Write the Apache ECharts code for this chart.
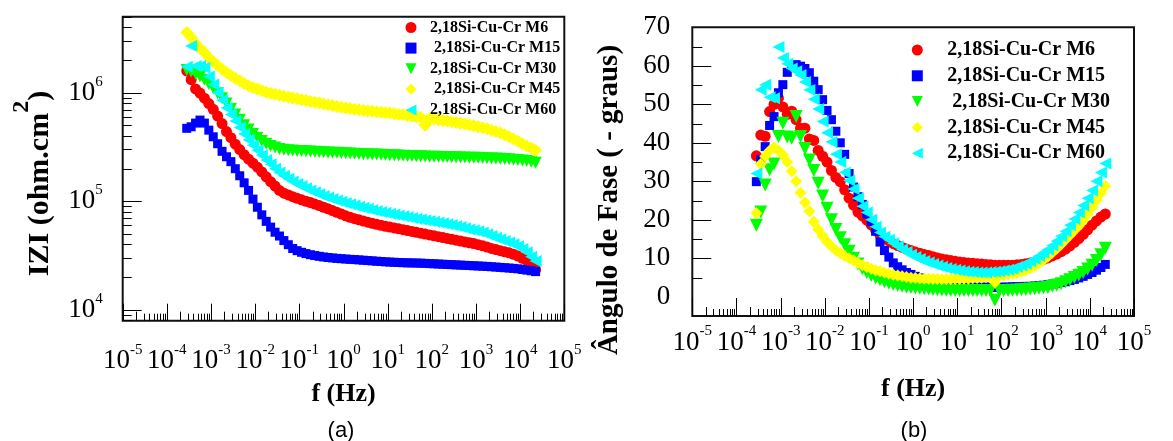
<!DOCTYPE html>
<html>
<head>
<meta charset="utf-8">
<title>Bode 2,18Si-Cu-Cr</title>
<script src="https://cdn.jsdelivr.net/npm/echarts@6.0.0/dist/echarts.min.js"></script>
<style>
  html, body { margin: 0; padding: 0; background: #fff; }
  #chart { width: 1173px; height: 441px; }
</style>
</head>
<body>
<div id="chart"></div>
<script>
// log10 of frequency (Hz), shared by every sample
const logF = [
  -3.55, -3.45, -3.35, -3.25, -3.15, -3.05, -2.95, -2.85, -2.75, -2.65,
  -2.55, -2.45, -2.35, -2.25, -2.15, -2.05, -1.95, -1.85, -1.75, -1.65,
  -1.55, -1.45, -1.35, -1.25, -1.15, -1.05, -0.95, -0.85, -0.75, -0.65,
  -0.55, -0.45, -0.35, -0.25, -0.15, -0.05, 0.05, 0.15, 0.25, 0.35,
  0.45, 0.55, 0.65, 0.75, 0.85, 0.95, 1.05, 1.15, 1.25, 1.35,
  1.45, 1.55, 1.65, 1.75, 1.85, 1.95, 2.05, 2.15, 2.25, 2.35,
  2.45, 2.55, 2.65, 2.75, 2.85, 2.95, 3.05, 3.15, 3.25, 3.35,
  3.45, 3.55, 3.65, 3.75, 3.85, 3.95, 4.05, 4.15, 4.25, 4.35
];

// (a) log10 |Z| (ohm.cm2)
const logZ_M6 = [
  6.20, 6.12, 6.035, 5.997, 5.95, 5.90, 5.847, 5.785, 5.716, 5.642,
  5.586, 5.526, 5.476, 5.429, 5.388, 5.351, 5.314, 5.27, 5.225, 5.18,
  5.14, 5.10, 5.075, 5.058, 5.042, 5.027, 5.013, 5.0, 4.988, 4.974,
  4.96, 4.945, 4.93, 4.914, 4.898, 4.882, 4.866, 4.852, 4.84, 4.829,
  4.818, 4.807, 4.797, 4.788, 4.778, 4.77, 4.762, 4.754, 4.746, 4.738,
  4.73, 4.722, 4.714, 4.706, 4.698, 4.69, 4.682, 4.674, 4.666, 4.658,
  4.65, 4.642, 4.634, 4.626, 4.618, 4.61, 4.60, 4.59, 4.578, 4.566,
  4.555, 4.545, 4.535, 4.525, 4.512, 4.495, 4.475, 4.455, 4.42, 4.37
];
const logZ_M15 = [
  5.672, 5.686, 5.72, 5.748, 5.72, 5.655, 5.594, 5.53, 5.46, 5.41,
  5.365, 5.30, 5.235, 5.17, 5.10, 5.02, 4.945, 4.875, 4.815, 4.762,
  4.715, 4.68, 4.638, 4.60, 4.565, 4.545, 4.53, 4.518, 4.508, 4.50,
  4.493, 4.487, 4.482, 4.478, 4.474, 4.471, 4.468, 4.465, 4.463, 4.46,
  4.457, 4.454, 4.451, 4.448, 4.445, 4.442, 4.44, 4.438, 4.436, 4.434,
  4.433, 4.432, 4.431, 4.43, 4.428, 4.426, 4.424, 4.422, 4.42, 4.418,
  4.416, 4.414, 4.412, 4.41, 4.408, 4.406, 4.404, 4.402, 4.40, 4.397,
  4.394, 4.391, 4.388, 4.385, 4.382, 4.378, 4.372, 4.366, 4.36, 4.352
];
const logZ_M30 = [
  6.21, 6.195, 6.175, 6.15, 6.12, 6.08, 6.04, 5.995, 5.95, 5.90,
  5.85, 5.80, 5.75, 5.70, 5.66, 5.62, 5.585, 5.555, 5.53, 5.51,
  5.495, 5.482, 5.475, 5.47, 5.467, 5.464, 5.462, 5.46, 5.458, 5.456,
  5.454, 5.452, 5.45, 5.448, 5.446, 5.444, 5.442, 5.44, 5.438, 5.436,
  5.434, 5.432, 5.431, 5.43, 5.428, 5.427, 5.425, 5.423, 5.421, 5.419,
  5.417, 5.416, 5.415, 5.414, 5.412, 5.411, 5.41, 5.409, 5.408, 5.407,
  5.406, 5.405, 5.404, 5.403, 5.402, 5.401, 5.40, 5.399, 5.397, 5.395,
  5.393, 5.391, 5.389, 5.386, 5.383, 5.379, 5.375, 5.37, 5.363, 5.355
];
const logZ_M45 = [
  6.554, 6.51, 6.455, 6.41, 6.37, 6.325, 6.286, 6.25, 6.215, 6.185,
  6.158, 6.133, 6.11, 6.085, 6.065, 6.048, 6.033, 6.02, 6.005, 5.994,
  5.985, 5.976, 5.968, 5.96, 5.952, 5.944, 5.936, 5.928, 5.92, 5.912,
  5.904, 5.896, 5.888, 5.881, 5.874, 5.867, 5.86, 5.854, 5.848, 5.842,
  5.837, 5.832, 5.828, 5.824, 5.82, 5.816, 5.812, 5.807, 5.802, 5.796,
  5.79, 5.784, 5.778, 5.772, 5.70, 5.762, 5.757, 5.751, 5.745, 5.739,
  5.733, 5.726, 5.719, 5.711, 5.703, 5.695, 5.686, 5.677, 5.667, 5.655,
  5.642, 5.628, 5.612, 5.594, 5.574, 5.553, 5.53, 5.51, 5.49, 5.47
];
const logZ_M60 = [
  6.24, 6.43, 6.245, 6.245, 6.23, 6.15, 6.075, 6.00, 5.93, 5.86,
  5.80, 5.74, 5.68, 5.62, 5.565, 5.515, 5.47, 5.425, 5.38, 5.34,
  5.30, 5.265, 5.235, 5.208, 5.183, 5.16, 5.14, 5.12, 5.10, 5.082,
  5.065, 5.049, 5.034, 5.02, 5.007, 4.995, 4.983, 4.972, 4.961, 4.95,
  4.94, 4.93, 4.92, 4.911, 4.902, 4.894, 4.886, 4.878, 4.87, 4.862,
  4.854, 4.847, 4.84, 4.833, 4.826, 4.819, 4.812, 4.805, 4.797, 4.789,
  4.781, 4.772, 4.762, 4.752, 4.741, 4.733, 4.725, 4.712, 4.697, 4.68,
  4.665, 4.65, 4.635, 4.62, 4.605, 4.585, 4.56, 4.53, 4.49, 4.45
];

// (b) phase angle (- degrees)
const phase_M6 = [
  36.6, 42.0, 41.7, 48.1, 50.0, 51.6, 49.3, 47.4, 48.2, 46.0,
  43.8, 43.8, 41.0, 40.6, 38.0, 36.5, 35.0, 32.8, 31.0, 29.9,
  27.8, 25.6, 23.8, 22.0, 21.0, 19.9, 18.7, 17.3, 16.0, 15.2,
  14.5, 13.8, 13.3, 12.8, 12.4, 12.0, 11.6, 11.3, 11.0, 10.7,
  10.4, 10.1, 9.8, 9.6, 9.4, 9.2, 9.0, 8.9, 8.8, 8.7,
  8.6, 8.5, 8.4, 8.3, 8.2, 8.2, 8.2, 8.2, 8.2, 8.3,
  8.4, 8.6, 8.8, 9.0, 9.3, 9.7, 10.1, 10.6, 11.1, 11.7,
  12.4, 13.2, 14.1, 15.1, 16.2, 17.4, 18.6, 19.7, 20.7, 21.5
];
const phase_M15 = [
  29.9, 35.6, 39.0, 44.5, 46.8, 53.0, 55.1, 58.3, 59.6, 60.3,
  59.9, 59.3, 58.2, 56.0, 53.8, 51.2, 48.4, 46.0, 43.0, 40.0,
  37.0, 32.0, 28.5, 26.0, 24.0, 21.5, 19.5, 17.0, 14.2, 12.0,
  10.3, 8.8, 7.8, 7.0, 6.3, 5.8, 5.3, 4.9, 4.5, 4.1,
  3.8, 3.5, 3.2, 3.0, 2.9, 2.8, 2.7, 2.6, 2.6, 2.5,
  2.5, 2.5, 2.5, 2.5, 2.4, 2.5, 2.5, 2.5, 2.6, 2.6,
  2.6, 2.7, 2.7, 2.8, 2.9, 3.0, 3.1, 3.3, 3.5, 3.7,
  3.9, 4.2, 4.5, 4.9, 5.3, 5.8, 6.3, 6.9, 7.6, 8.4
];
const phase_M30 = [
  18.6, 22.0, 29.0, 33.0, 34.5, 41.6, 45.1, 41.5, 41.2, 46.8,
  41.6, 38.5, 35.5, 32.8, 29.5, 26.2, 23.0, 20.0, 17.5, 15.3,
  13.5, 11.8, 10.0, 8.5, 7.3, 6.3, 5.5, 4.9, 4.4, 3.9,
  3.5, 3.2, 2.9, 2.7, 2.5, 2.4, 2.3, 2.2, 2.1, 2.0,
  1.9, 1.8, 1.75, 1.7, 1.65, 1.6, 1.6, 1.6, 1.6, 1.6,
  1.6, 1.6, 1.6, 1.6, -0.9, 1.6, 1.6, 1.65, 1.7, 1.7,
  1.8, 1.9, 2.0, 2.1, 2.2, 2.3, 2.4, 2.7, 3.0, 3.4,
  3.9, 4.4, 5.0, 5.6, 6.3, 7.2, 8.2, 9.4, 10.9, 12.6
];
const phase_M45 = [
  21.7, 34.5, 36.5, 38.0, 38.8, 38.0, 36.9, 35.0, 32.6, 30.0,
  27.0, 24.5, 22.2, 19.5, 17.5, 15.8, 14.3, 13.1, 12.1, 11.3,
  10.6, 10.0, 9.4, 8.8, 8.2, 7.7, 7.3, 6.9, 6.6, 6.3,
  6.0, 5.7, 5.5, 5.3, 5.1, 4.95, 4.85, 4.75, 4.7, 4.65,
  4.6, 4.6, 4.55, 4.55, 4.55, 4.6, 4.6, 4.65, 4.7, 4.8,
  4.85, 4.95, 5.05, 5.2, 3.7, 5.45, 5.6, 5.8, 6.0, 6.2,
  6.5, 6.9, 7.4, 8.0, 8.7, 9.5, 10.4, 11.4, 12.5, 13.6,
  14.8, 16.0, 17.2, 18.4, 19.8, 21.5, 23.2, 25.0, 26.9, 28.8
];
const phase_M60 = [
  32.0, 53.8, 55.1, 51.8, 51.6, 64.9, 62.0, 60.5, 59.3, 58.6,
  57.6, 55.8, 53.7, 51.3, 48.8, 45.5, 42.6, 40.2, 37.0, 35.0,
  32.3, 30.2, 28.0, 25.6, 23.5, 21.9, 20.0, 18.2, 16.7, 15.6,
  14.8, 13.9, 13.1, 12.3, 11.6, 10.9, 10.3, 9.8, 9.3, 8.9,
  8.5, 8.1, 7.8, 7.5, 7.2, 7.0, 6.8, 6.6, 6.5, 6.4,
  6.3, 6.3, 6.3, 6.4, 6.5, 6.6, 6.8, 7.0, 7.3, 7.7,
  8.1, 8.6, 9.2, 9.9, 10.6, 11.4, 12.3, 13.3, 14.5, 15.7,
  17.0, 18.6, 20.2, 21.9, 23.7, 25.6, 27.6, 30.0, 32.3, 34.6
];

// legend texts (the originals carry a leading blank on some lines)
const namesA = ['2,18Si-Cu-Cr M6', ' 2,18Si-Cu-Cr M15', '2,18Si-Cu-Cr M30', ' 2,18Si-Cu-Cr M45', '2,18Si-Cu-Cr M60'];
const namesB = ['2,18Si-Cu-Cr M6', '2,18Si-Cu-Cr M15', ' 2,18Si-Cu-Cr M30', '2,18Si-Cu-Cr M45', '2,18Si-Cu-Cr M60'];

// tick labels
const freqDecades = [-5, -4, -3, -2, -1, 0, 1, 2, 3, 4, 5];
const zDecades = [4, 5, 6];
const phaseTicks = [0, 10, 20, 30, 40, 50, 60, 70];

const serif = 'Liberation Serif';
const chart = echarts.init(document.getElementById('chart'));

const marks = [
  { color: '#ff0000', symbol: 'circle', rotate: 0, sizeA: 11, sizeB: 11, icon: 'circle' },
  { color: '#0000ff', symbol: 'rect', rotate: 0, sizeA: 9, sizeB: 9, icon: 'rect' },
  { color: '#00ff00', symbol: 'triangle', rotate: 180, sizeA: 12, sizeB: 13, icon: 'path://M0,0L2,0L1,2Z' },
  { color: '#ffff00', symbol: 'diamond', rotate: 0, sizeA: 13, sizeB: 12, icon: 'diamond' },
  { color: '#00ffff', symbol: 'triangle', rotate: 90, sizeA: 12, sizeB: 12, icon: 'path://M2,0L2,2L0,1Z' }
];

function scatter(name, ys, m, size, g) {
  return {
    type: 'scatter', name: name, xAxisIndex: g, yAxisIndex: g,
    data: logF.map((x, i) => [x, ys[i]]),
    symbol: m.symbol, symbolRotate: m.rotate, symbolSize: size,
    itemStyle: { color: m.color, opacity: 1 },
    silent: true
  };
}

// tick marks: [x, y, kind]  kind 0 major, 1 first minor, 2 other minor
function logTicks(lo, hi) {
  const out = [];
  for (let d = Math.floor(lo); d <= hi; d++) {
    for (let k = 1; k <= 9; k++) {
      const v = d + Math.log10(k);
      if (v >= lo - 1e-9 && v <= hi + 1e-9) out.push([v, k === 1 ? 0 : (k === 2 ? 1 : 2)]);
    }
  }
  return out;
}
function tickSeries(g, data, vertical, lens) {
  return {
    type: 'custom', xAxisIndex: g, yAxisIndex: g, silent: true, z: 5,
    data: data, encode: { x: 0, y: 1 },
    renderItem: function (params, api) {
      const p = api.coord([api.value(0), api.value(1)]);
      const len = lens[api.value(2)];
      if (vertical) {
        const x = Math.round(p[0]) + 0.5;
        return { type: 'line', shape: { x1: x, y1: p[1], x2: x, y2: p[1] - len }, style: { stroke: '#000', lineWidth: 1 } };
      }
      const y = Math.round(p[1]) + 0.5;
      return { type: 'line', shape: { x1: p[0], y1: y, x2: p[0] + len, y2: y }, style: { stroke: '#000', lineWidth: 1 } };
    }
  };
}

const fTicks = logTicks(-5, 5);
const zTicks = logTicks(3.9, 6.7);

const expRich = {
  b: { fontSize: 27, lineHeight: 37, fontFamily: serif, color: '#000' },
  s: { fontSize: 15, lineHeight: 15, verticalAlign: 'top', fontFamily: serif, color: '#000' }
};
const isInt = v => Math.abs(v - Math.round(v)) < 1e-6;
const expLabel = v => isInt(v) ? '{b|10}{s|' + Math.round(v) + '}' : '';

function freqAxis(g, margin) {
  return {
    type: 'value', gridIndex: g,
    min: freqDecades[0], max: freqDecades[freqDecades.length - 1], interval: 1,
    axisLine: { show: false }, axisTick: { show: false }, splitLine: { show: false },
    axisLabel: { margin: margin, formatter: expLabel, rich: expRich, showMinLabel: true, showMaxLabel: true, hideOverlap: false },
    name: 'f (Hz)', nameLocation: 'middle', nameGap: g === 0 ? 61 : 60,
    nameTextStyle: { fontFamily: serif, fontWeight: 'bold', fontSize: 26, color: '#000' }
  };
}

function legend(names, iconX, firstRowY, rowPitch, fontSize, textX) {
  const lh = fontSize + 2;
  return {
    orient: 'vertical', left: iconX - 5.5, top: firstRowY - lh / 2, padding: 0,
    itemGap: rowPitch - lh, itemWidth: 11, itemHeight: 11, selectedMode: false,
    data: names.map((n, i) => ({ name: n, icon: marks[i].icon })),
    textStyle: {
      fontFamily: serif, fontWeight: 'bold', fontSize: fontSize, lineHeight: lh, color: '#000',
      padding: [0, 0, 0, textX - iconX - 5.5 - 5]
    }
  };
}

const option = {
  animation: false,
  backgroundColor: '#fff',
  textStyle: { fontFamily: serif },
  grid: [
    { left: 122.7, top: 16.7, width: 441.6, height: 304, show: true, borderColor: '#111', borderWidth: 2, containLabel: false, outerBoundsMode: 'none' },
    { left: 692.3, top: 27.3, width: 441.7, height: 288.7, show: true, borderColor: '#111', borderWidth: 2, containLabel: false, outerBoundsMode: 'none' }
  ],
  xAxis: [freqAxis(0, 22), freqAxis(1, 8)],
  yAxis: [
    {
      type: 'value', gridIndex: 0, min: 3.9, max: 6.7, interval: 0.1,
      axisLine: { show: false }, axisTick: { show: false }, splitLine: { show: false },
      axisLabel: {
        margin: 20, rich: expRich, showMinLabel: true, showMaxLabel: true, hideOverlap: false,
        formatter: v => (isInt(v) && zDecades.indexOf(Math.round(v)) >= 0) ? expLabel(v) : ''
      }
    },
    {
      type: 'value', gridIndex: 1, min: -5, max: 70, interval: 5,
      axisLine: { show: false }, axisTick: { show: false }, splitLine: { show: false },
      axisLabel: {
        margin: 22, fontSize: 27, fontFamily: serif, color: '#000', hideOverlap: false,
        formatter: v => phaseTicks.indexOf(v) >= 0 ? String(v) : ''
      }
    }
  ],
  legend: [
    legend(namesA, 411, 27.5, 20.6, 16, 430),
    legend(namesB, 917.3, 50, 25.8, 20, 947.3)
  ],
  graphic: [
    {
      type: 'text', x: 40, y: 183.5, rotation: Math.PI / 2, silent: true,
      style: {
        text: '{t|IZI (ohm.cm}{s|2}{t|)}', align: 'center', verticalAlign: 'middle',
        rich: {
          t: { fontSize: 30, fontWeight: 'bold', fontFamily: serif, lineHeight: 61, fill: '#000' },
          s: { fontSize: 24, fontWeight: 'bold', fontFamily: serif, lineHeight: 20, verticalAlign: 'top', fill: '#000' }
        }
      }
    },
    {
      type: 'text', x: 610, y: 200, rotation: Math.PI / 2, silent: true,
      style: {
        text: 'Ângulo de Fase ( - graus)', align: 'center', verticalAlign: 'middle',
        fontSize: 29, fontWeight: 'bold', fontFamily: serif, fill: '#000'
      }
    },
    {
      type: 'text', x: 341, y: 430.5, silent: true,
      style: { text: '(a)', align: 'center', verticalAlign: 'middle', fontSize: 22, fontFamily: 'Liberation Sans', fill: '#000' }
    },
    {
      type: 'text', x: 914, y: 430.5, silent: true,
      style: { text: '(b)', align: 'center', verticalAlign: 'middle', fontSize: 22, fontFamily: 'Liberation Sans', fill: '#000' }
    }
  ],
  series: [
    scatter(namesA[0], logZ_M6, marks[0], marks[0].sizeA, 0),
    scatter(namesA[1], logZ_M15, marks[1], marks[1].sizeA, 0),
    scatter(namesA[2], logZ_M30, marks[2], marks[2].sizeA, 0),
    scatter(namesA[3], logZ_M45, marks[3], marks[3].sizeA, 0),
    scatter(namesA[4], logZ_M60, marks[4], marks[4].sizeA, 0),
    scatter(namesB[0], phase_M6, marks[0], marks[0].sizeB, 1),
    scatter(namesB[1], phase_M15, marks[1], marks[1].sizeB, 1),
    scatter(namesB[2], phase_M30, marks[2], marks[2].sizeB, 1),
    scatter(namesB[3], phase_M45, marks[3], marks[3].sizeB, 1),
    scatter(namesB[4], phase_M60, marks[4], marks[4].sizeB, 1),
    tickSeries(0, fTicks.map(t => [t[0], 3.9, t[1]]), true, [17, 9, 7]),
    tickSeries(0, zTicks.map(t => [-5, t[0], t[1]]), false, [19, 9, 9]),
    tickSeries(1, fTicks.map(t => [t[0], -5, t[1]]), true, [18, 9, 7]),
    tickSeries(1, [5, 10, 15, 20, 25, 30, 35, 40, 45, 50, 55, 60, 65].map(v => [-5, v, v % 10 === 0 ? 0 : 1]), false, [19, 10, 10])
  ]
};

chart.setOption(option);
</script>
</body>
</html>
